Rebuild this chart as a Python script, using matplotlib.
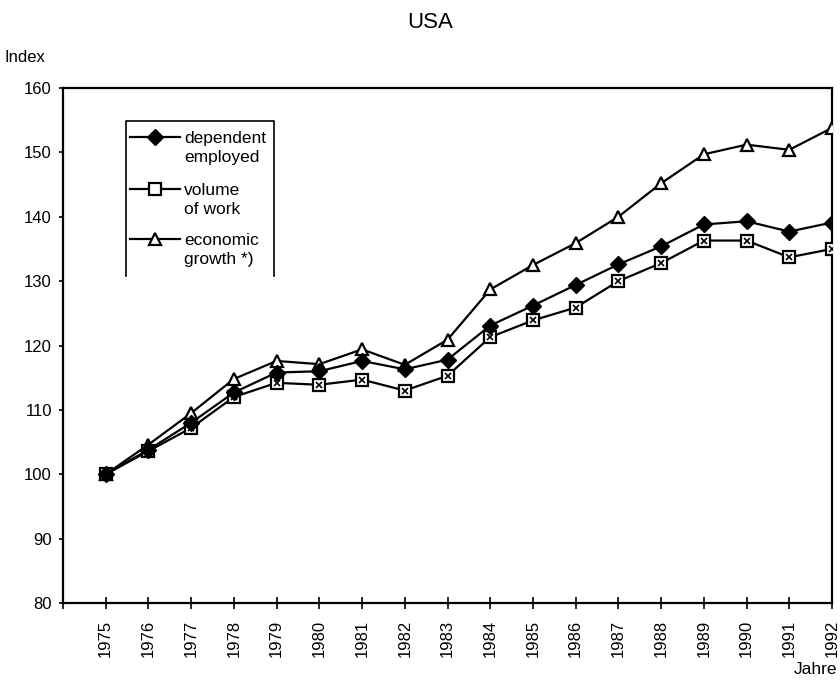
import matplotlib
matplotlib.use("Agg")
import matplotlib.pyplot as plt
from matplotlib.lines import Line2D

plt.rcParams['font.family'] = ['Liberation Sans', 'DejaVu Sans']

years = list(range(1975, 1993))
dependent_employed = [100, 103.8, 108, 112.7, 115.8, 116, 117.6, 116.3, 117.8, 123.1, 126.2, 129.4, 132.6, 135.4, 138.8, 139.3, 137.7, 139.1]
volume_of_work = [100, 103.6, 107.2, 112, 114.2, 113.9, 114.7, 113, 115.3, 121.3, 123.9, 125.9, 130, 132.8, 136.3, 136.3, 133.7, 135]
economic_growth = [100, 104.6, 109.5, 114.8, 117.6, 117.1, 119.4, 117, 120.9, 128.7, 132.5, 135.9, 140, 145.2, 149.7, 151.2, 150.4, 153.8]
yticks = [80, 90, 100, 110, 120, 130, 140, 150, 160]
labels = [("dependent", "employed"), ("volume", "of work"), ("economic", "growth *)")]

W, H = 840, 684
fig = plt.figure(figsize=(8.4, 6.84), dpi=100)
ax_l, ax_r, ax_t, ax_b = 63, 832, 88, 603
ax = fig.add_axes([ax_l / W, 1 - ax_b / H, (ax_r - ax_l) / W, (ax_b - ax_t) / H])

def fx(px):
    return (px - ax_l) / (ax_r - ax_l)

def fy(py):
    return 1 - (py - ax_t) / (ax_b - ax_t)

lw = 1.6
tri = dict(marker='^', ms=9, mfc='white', mec='black', mew=1.6)
sq = dict(marker='s', ms=8, mfc='white', mec='black', mew=1.6)
dia = dict(marker='D', ms=8, mfc='black', mec='black')

ax.plot(years, economic_growth, color='black', lw=lw, zorder=3, **tri)
ax.plot(years, volume_of_work, color='black', lw=lw, zorder=4, **sq)
ax.plot(years, volume_of_work, linestyle='none', marker='x', ms=4,
        mec='black', mew=1.2, zorder=5)
ax.plot(years, dependent_employed, color='black', lw=lw, zorder=6, **dia)

ax.set_xlim(1974, 1992)
ax.set_ylim(80, 160)
ax.set_yticks(yticks)
ax.set_yticklabels([str(v) for v in yticks], fontsize=12)
ax.set_xticks(list(range(1974, 1993)))
ax.set_xticklabels([''] + [str(y) for y in years], rotation=90, fontsize=12)
ax.tick_params(axis='x', direction='inout', length=8, width=1.2, pad=8)
ax.tick_params(axis='y', direction='out', length=3, width=1.2, pad=5)
for s in ax.spines.values():
    s.set_linewidth(1.6)

# legend box (three visible sides, as in the scan)
bx0, bx1, by0, by1 = fx(126), fx(274), fy(121), fy(276)
ax.plot([bx0, bx0, bx1, bx1], [by1, by0, by0, by1], color='black', lw=1.2,
        transform=ax.transAxes, clip_on=False, zorder=7)
entry_y = [137, 189, 239]
styles = [dia, dict(sq), tri]
for (l1, l2), ey, st in zip(labels, entry_y, styles):
    ax.plot([fx(130), fx(180)], [fy(ey), fy(ey)], color='black', lw=lw,
            transform=ax.transAxes, clip_on=False, zorder=8)
    ax.plot([fx(155)], [fy(ey)], transform=ax.transAxes, clip_on=False,
            zorder=9, linestyle='none', **st)
    ax.text(fx(184), fy(ey + 6), l1, transform=ax.transAxes, fontsize=12.5,
            va='baseline', ha='left')
    ax.text(fx(184), fy(ey + 25), l2, transform=ax.transAxes, fontsize=12.5,
            va='baseline', ha='left')

fig.text(430 / W, 1 - 22 / H, 'USA', ha='center', va='center', fontsize=16)
fig.text(5 / W, 1 - 58 / H, 'Index', ha='left', va='center', fontsize=12)
fig.text(837 / W, 1 - 670 / H, 'Jahre', ha='right', va='center', fontsize=12.5)

fig.savefig('out.png', dpi=100)
